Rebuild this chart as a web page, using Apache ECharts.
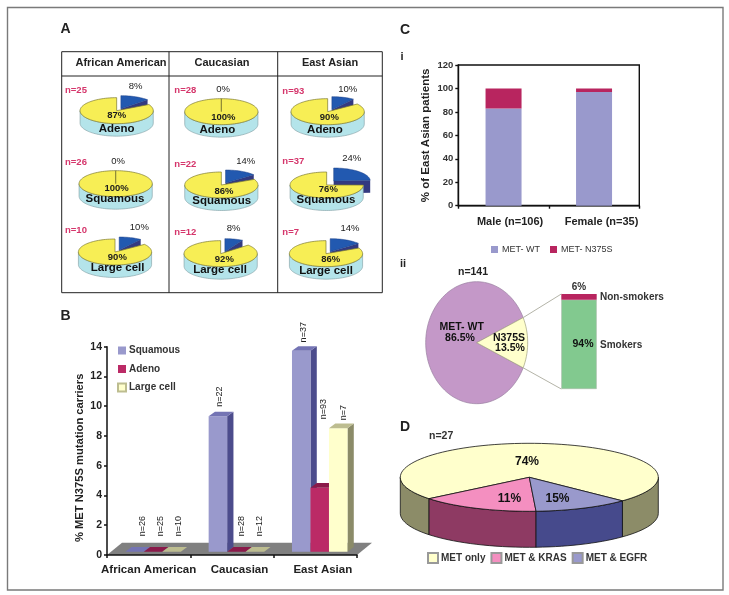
<!DOCTYPE html>
<html><head><meta charset="utf-8">
<style>html,body{margin:0;padding:0;background:#fff}#c{width:729px;height:595px}</style>
<script src="https://cdn.jsdelivr.net/npm/echarts@6/dist/echarts.min.js"></script>
</head><body><div id="c"></div>
<script>
// ---------- DATA ----------
const groups = ['African American', 'Caucasian', 'East Asian'];
const histologies = ['Adeno', 'Squamous', 'Large cell'];
// panel A, one row per group, one value per histology
const wtPct = [[87, 100, 90], [100, 86, 92], [90, 76, 86]];
const mutPct = [[8, 0, 10], [0, 14, 8], [10, 24, 14]];
const nCounts = [[25, 26, 10], [28, 22, 12], [93, 37, 7]];
// panel B
const bNames = ['Squamous', 'Adeno', 'Large cell'];
const bSquamous = [0, 9.1, 13.5];
const bAdeno = [0, 0, 4.3];
const bLarge = [0, 0, 8.3];
const bNSquamous = [26, 22, 37];
const bNAdeno = [25, 28, 93];
const bNLarge = [10, 12, 7];
// panel C i
const ciCategories = ['Male (n=106)', 'Female (n=35)'];
const ciWT = [83, 97];
const ciN375S = [17, 3];
// panel C ii
const ciiPie = [86.5, 13.5];
const ciiSmokers = [94];
const ciiNonSmokers = [6];
// panel D: printed labels, and the slice sizes as actually drawn in the picture
const dNames = ['MET only', 'MET & KRAS', 'MET & EGFR'];
const dLabels = [74, 11, 15];
const dDrawnShare = [73, 15, 12];

// ---------- LAYOUT ----------
const FF = '"Liberation Sans", Arial, sans-serif';
const INK = '#1c1c1c';
const za = (x, y) => [50 + x / 3, 15 + y / 3];
const miniCenter = [[[200, 287], [197, 506], [195, 711]], [[514, 290], [514, 510], [512, 716]], [[833, 290], [830, 510], [828, 716]]];
const miniN = [[[45, 225], [45, 441], [45, 645]], [[373, 225], [373, 447], [373, 652]], [[697, 230], [697, 440], [697, 652]]];
const miniMut = [[[257, 213], [204, 438], [268, 637]], [[519, 224], [587, 438], [551, 640]], [[893, 223], [905, 431], [900, 640]]];
const miniWt = [[[200, 302], [200, 520], [202, 727]], [[520, 308], [522, 530], [523, 733]], [[838, 307], [835, 522], [842, 733]]];
const miniHist = [[[200, 341], [195, 551], [203, 758]], [[502, 343], [515, 558], [510, 763]], [[825, 343], [828, 555], [828, 766]]];
const MINI = { rx: 36.6, ry: 13, d: 12.5 };
const bGrid = { left: 107, top: 346.7, width: 250, height: 208.3 };
const ciGrid = { left: 458.3, top: 65, width: 181, height: 140.7 };
const ciiGrid = { left: 561.3, top: 294, width: 35.4, height: 95 };
const ciiEll = { cx: 476.7, cy: 342.7, rx: 51, ry: 61 };
const dEll = { cx: 529.3, cy: 477.3, rx: 129, ry: 34, d: 36 };
const dColors = [['#ffffcc', '#8c8c68'], ['#f48fc0', '#8e3a63'], ['#9999cc', '#464a8c']];
const dSweepOrder = [0, 2, 1], dStart = 231;
const bBar = { w: 18.5, shift: 4.4, raise: 3.3, dx: 6.3, dy: 4.6 };
const bColors = [
  { front: '#9999cc', side: '#4c4c8c', top: '#7474b4' },
  { front: '#bb2a66', side: '#7c1240', top: '#8a1a4a' },
  { front: '#ffffcc', side: '#8b8b68', top: '#bdbd90' }];
const bLabelRise = [[21, 15, 14], [21, 21, 74], [21, 21, 11]];
const bLabelDx = [[16.7, 11, 11.3], [16.5, 14, 13], [16, 14, 14.7]];

// ---------- GEOMETRY HELPERS ----------
const rad = d => d * Math.PI / 180;
const pt = (e, deg, ox = 0, oy = 0) => [e.cx + ox + e.rx * Math.sin(rad(deg)), e.cy + oy - e.ry * Math.cos(rad(deg))];
function arc(e, a, b, ox = 0, oy = 0) {
  const pts = [], n = Math.max(2, Math.ceil(Math.abs(b - a) / 3));
  for (let i = 0; i <= n; i++) pts.push(pt(e, a + (b - a) * i / n, ox, oy));
  return pts;
}
const sector = (e, a, b, ox = 0, oy = 0) => [[e.cx + ox, e.cy + oy], ...arc(e, a, b, ox, oy)];
function frontRims(e, a, b, depth, ox = 0, oy = 0) {
  const out = [];
  for (let k = -1; k <= 2; k++) {
    const s = Math.max(a, 90 + 360 * k), t = Math.min(b, 270 + 360 * k);
    if (t > s) {
      const top = arc(e, s, t, ox, oy);
      out.push([...top, ...top.slice().reverse().map(p => [p[0], p[1] + depth])]);
    }
  }
  return out;
}
const poly = (points, fill, stroke, lineWidth) => ({ type: 'polygon', shape: { points }, style: { fill, stroke: stroke || null, lineWidth: lineWidth || 0 } });
const txt = (text, x, y, font, fill, align) => ({ type: 'text', style: { text, x, y, font: font + ' ' + FF, fill: fill || INK, align: align || 'center', verticalAlign: 'middle' } });

// ---------- RENDERERS ----------
function renderMini(params, api) {
  const c = api.value(0), r = api.value(1), wt = api.value(2), mut = api.value(3), n = api.value(4);
  const cc = za(...miniCenter[c][r]);
  const e = { cx: cc[0], cy: cc[1], rx: MINI.rx, ry: MINI.ry };
  // the exploded wedge spans the share not taken by the yellow slice; the yellow cut sits a little
  // further round, as the reference's perspective draws it
  const a = (100 - wt) * 3.6, yStart = a > 0 ? 28 + 0.72 * a : 0, kids = [];
  if (a > 0) {
    const ex = a > 60 ? 7 : 4.2, ey = a > 60 ? -4 : -2;
    const rim = pt(e, a, ex, ey), ctr = [e.cx + ex, e.cy + ey];
    kids.push(poly([ctr, rim, [rim[0], rim[1] + MINI.d], [ctr[0], ctr[1] + MINI.d]], '#333a80'));
    frontRims(e, 0, a, MINI.d, ex, ey).forEach(p => kids.push(poly(p, '#333a80')));
    kids.push(poly(sector(e, 0, a, ex, ey), '#2259b0', '#1b3f86', 0.5));
  }
  frontRims(e, yStart, 360, MINI.d).forEach(p => kids.push(poly(p, '#b4e4ea', '#7d9aa0', 0.6)));
  kids.push(poly(sector(e, yStart, 360), '#f7ee55', '#7d7a30', 0.7));
  const p1 = za(...miniWt[c][r]), p2 = za(...miniHist[c][r]), p3 = za(...miniMut[c][r]), p4 = za(...miniN[c][r]);
  kids.push(txt(wt + '%', p1[0], p1[1], 'bold 9.5px'));
  kids.push(txt(histologies[r], p2[0], p2[1], 'bold 11.5px', '#111'));
  kids.push(txt(mut + '%', p3[0], p3[1], '9.5px', '#222'));
  kids.push(txt('n=' + n, p4[0], p4[1], 'bold 9.5px', '#d5356b', 'left'));
  return { type: 'group', children: kids };
}
function renderFloor(params, api) {
  const s = params.coordSys, B = s.y + s.height, X = s.x, R = s.x + s.width;
  return poly([[X, B], [R, B], [R + 15, B - 12.3], [X + 15, B - 12.3]], '#808080');
}
function makeBarRender(si) {
  return function (params, api) {
    const cat = api.value(0), v = api.value(1), n = api.value(2);
    const base = api.coord([cat, 0]), tip = api.coord([cat, v]);
    const x0 = base[0] + bBar.shift + (si - 1.5) * bBar.w, x1 = x0 + bBar.w;
    const yb = base[1] - bBar.raise, yt = tip[1] - bBar.raise;
    const col = bColors[si], kids = [];
    const dx = bBar.dx, dy = bBar.dy;
    kids.push(poly([[x1, yt], [x1 + dx, yt - dy], [x1 + dx, yb - dy], [x1, yb]], col.side));
    if (v > 0) kids.push(poly([[x0, yt], [x1, yt], [x1, yb], [x0, yb]], col.front));
    kids.push(poly([[x0, yt], [x1, yt], [x1 + dx, yt - dy], [x0 + dx, yt - dy]], col.top));
    kids.push({
      type: 'text', x: x0 + bLabelDx[si][cat], y: yt - dy - bLabelRise[si][cat], rotation: Math.PI / 2,
      style: { text: 'n=' + n, x: 0, y: 0, font: '9px ' + FF, fill: '#222', align: 'center', verticalAlign: 'middle' }
    });
    return { type: 'group', children: kids };
  };
}
function renderCiiPie(params, api) {
  const half = api.value(1) * 1.8;
  return {
    type: 'group', children: [
      poly(sector(ciiEll, 90 + half, 450 - half), '#c498c8', '#9a7fa0', 0.7),
      poly(sector(ciiEll, 90 - half, 90 + half), '#ffffcc', '#a0a080', 0.7)
    ]
  };
}
function makeDRender(nameIdx) {
  return function () {
    let a = dStart;
    for (const i of dSweepOrder) {
      const b = a + dDrawnShare[i] * 3.6;
      if (i === nameIdx) {
        const kids = [];
        frontRims(dEll, a, b, dEll.d).forEach(p => kids.push(poly(p, dColors[i][1], '#111', 0.8)));
        kids.push(poly(sector(dEll, a, b), dColors[i][0], '#111', 0.8));
        return { type: 'group', children: kids };
      }
      a = b;
    }
  };
}

// ---------- STATIC MARKUP ----------
const line = (x1, y1, x2, y2, stroke, lw) => ({ type: 'line', shape: { x1, y1, x2, y2 }, style: { stroke, lineWidth: lw } });
const half = ciiPie[1] * 1.8;
const ciiTop = pt(ciiEll, 90 - half), ciiBot = pt(ciiEll, 90 + half);
const tableLines = [
  line(61.7, 51.7, 382.3, 51.7, '#222', 1), line(61.7, 76, 382.3, 76, '#222', 1), line(61.7, 292.7, 382.3, 292.7, '#222', 1),
  line(61.7, 51.7, 61.7, 292.7, '#222', 1), line(169, 51.7, 169, 292.7, '#222', 1), line(277.7, 51.7, 277.7, 292.7, '#222', 1), line(382.3, 51.7, 382.3, 292.7, '#222', 1)
];
const graphicEls = [
  { type: 'rect', shape: { x: 7.5, y: 7.5, width: 715.5, height: 582.5 }, style: { fill: null, stroke: '#7a7a7a', lineWidth: 1.4 }, z: 0 },
  ...tableLines,
  line(ciiTop[0], ciiTop[1], ciiGrid.left, ciiGrid.top, '#b4b4a8', 1),
  line(ciiBot[0], ciiBot[1], ciiGrid.left, ciiGrid.top + ciiGrid.height, '#b4b4a8', 1),
  txt('A', 65.5, 29.5, 'bold 14px', '#222'), txt('B', 65.5, 316.5, 'bold 14px', '#222'),
  txt('C', 405, 30, 'bold 14px', '#222'), txt('D', 405, 427, 'bold 14px', '#222'),
  txt('i', 402, 57, 'bold 11px', '#222'), txt('ii', 403, 264, 'bold 11px', '#222'),
  txt(groups[0], 121, 63, 'bold 11px', '#222'), txt(groups[1], 222, 63, 'bold 11px', '#222'), txt(groups[2], 330, 63, 'bold 11px', '#222'),
  txt('n=141', 473, 272.5, 'bold 10.5px', '#222'),
  txt('MET- WT', 461.7, 326.7, 'bold 10.5px', '#111'), txt(ciiPie[0] + '%', 460, 338, 'bold 10.5px', '#111'),
  txt('N375S', 509, 338, 'bold 10.5px', '#111'), txt(ciiPie[1] + '%', 510, 348.5, 'bold 10.5px', '#111'),
  txt('Non-smokers', 600, 297.5, 'bold 10px', '#333', 'left'), txt('Smokers', 600, 345, 'bold 10px', '#333', 'left'),
  txt('n=27', 429, 436, 'bold 10.5px', '#333', 'left'),
  txt(dLabels[0] + '%', 527, 462, 'bold 12px', '#111'), txt(dLabels[1] + '%', 509.5, 498.5, 'bold 12px', '#111'), txt(dLabels[2] + '%', 557.5, 498.5, 'bold 12px', '#111')
].map(g => Object.assign({ silent: true, z: 20 }, g));

const miniData = [];
groups.forEach((g, c) => histologies.forEach((h, r) => miniData.push([c, r, wtPct[c][r], mutPct[c][r], nCounts[c][r]])));
const triples = (vals, ns) => vals.map((v, i) => [i, v, ns[i]]);
const labelShift = [0, 15, 15];
const axisName = { fontWeight: 'bold', color: '#222', fontFamily: FF };

const option = {
  animation: false, backgroundColor: '#fff',
  textStyle: { fontFamily: FF },
  graphic: { elements: graphicEls },
  grid: [
    Object.assign({ containLabel: false }, bGrid),
    Object.assign({ show: true, borderColor: '#111', borderWidth: 1.4, backgroundColor: 'transparent' }, ciGrid),
    Object.assign({}, ciiGrid)
  ],
  legend: [
    {
      left: 112, top: 340, orient: 'vertical', itemWidth: 8, itemHeight: 8, itemGap: 7.5, selectedMode: false, icon: 'rect',
      data: bNames, textStyle: { fontWeight: 'bold', fontSize: 10, color: '#333', padding: [0, 0, 0, -2], lineHeight: 11 }
    },
    {
      left: 486, top: 240, itemWidth: 7, itemHeight: 7, itemGap: 10, selectedMode: false, icon: 'rect',
      data: ['MET- WT', 'MET- N375S'], textStyle: { fontSize: 9, color: '#333', padding: [0, 0, 0, -1] }
    },
    {
      left: 422, top: 547, itemWidth: 10, itemHeight: 10, itemGap: 5, selectedMode: false, icon: 'rect',
      data: dNames, textStyle: { fontWeight: 'bold', fontSize: 10, color: '#333', padding: [0, 0, 0, -2] }
    }
  ],
  xAxis: [
    {
      gridIndex: 0, type: 'category', data: groups, z: 6,
      axisLine: { lineStyle: { color: '#111', width: 1.5 } }, axisTick: { show: true, length: 3, lineStyle: { color: '#111', width: 1.5 } },
      axisLabel: {
        interval: 0, margin: 9, hideOverlap: false,
        formatter: (v, i) => `{c${i}|${v}}`,
        rich: Object.fromEntries(groups.map((g, i) => ['c' + i, { fontWeight: 'bold', fontSize: 11.5, color: '#222', padding: [0, 0, 0, labelShift[i]] }]))
      }
    },
    {
      gridIndex: 1, type: 'category', data: ciCategories,
      axisLine: { lineStyle: { color: '#111', width: 1.4 } }, axisTick: { show: true, length: 3, lineStyle: { color: '#111', width: 1.4 } },
      axisLabel: {
        interval: 0, margin: 11,
        formatter: (v, i) => `{c${i}|${v}}`,
        rich: { c0: { fontWeight: 'bold', fontSize: 11, color: '#222', padding: [0, 0, 0, 13] }, c1: { fontWeight: 'bold', fontSize: 11, color: '#222', padding: [0, 0, 0, 15] } }
      }
    },
    { gridIndex: 2, type: 'category', data: ['N375S'], show: false }
  ],
  yAxis: [
    {
      gridIndex: 0, type: 'value', min: 0, max: 14, interval: 2, z: 6,
      name: '% MET N375S mutation carriers', nameLocation: 'middle', nameGap: 22, nameTextStyle: Object.assign({ fontSize: 11.2, padding: [0, 14, 0, 0] }, axisName),
      axisLine: { show: true, lineStyle: { color: '#111', width: 1.5 } }, axisTick: { show: true, length: 3, lineStyle: { color: '#111', width: 1.5 } },
      splitLine: { show: false }, axisLabel: { fontWeight: 'bold', fontSize: 10.5, color: '#222', margin: 5 }
    },
    {
      gridIndex: 1, type: 'value', min: 0, max: 120, interval: 20,
      name: '% of East Asian patients', nameLocation: 'middle', nameGap: 26, nameTextStyle: Object.assign({ fontSize: 11.5 }, axisName),
      axisLine: { show: true, lineStyle: { color: '#111', width: 1.4 } }, axisTick: { show: true, length: 3, lineStyle: { color: '#111', width: 1.4 } },
      splitLine: { show: false }, axisLabel: { fontWeight: 'bold', fontSize: 9.5, color: '#333', margin: 5 }
    },
    { gridIndex: 2, type: 'value', min: 0, max: 100, show: false, splitLine: { show: false } }
  ],
  series: [
    { type: 'custom', name: 'miniPies', coordinateSystem: 'none', renderItem: renderMini, data: miniData, silent: true },
    { type: 'custom', name: 'floor', xAxisIndex: 0, yAxisIndex: 0, renderItem: renderFloor, data: [[0, 0]], encode: { x: 0, y: 1 }, z: 1, silent: true, clip: false },
    ...[bSquamous, bAdeno, bLarge].map((vals, si) => ({
      type: 'custom', name: bNames[si], xAxisIndex: 0, yAxisIndex: 0, renderItem: makeBarRender(si), clip: false, silent: true,
      itemStyle: { color: bColors[si].front, borderColor: si === 2 ? '#bdbd90' : null, borderWidth: si === 2 ? 0.6 : 0 },
      data: triples(vals, [bNSquamous, bNAdeno, bNLarge][si]), encode: { x: 0, y: 1 }, z: 2 + si
    })),
    { type: 'bar', name: 'MET- WT', xAxisIndex: 1, yAxisIndex: 1, stack: 'c', barWidth: 36, data: ciWT, itemStyle: { color: '#9999cc' }, silent: true },
    { type: 'bar', name: 'MET- N375S', xAxisIndex: 1, yAxisIndex: 1, stack: 'c', barWidth: 36, data: ciN375S, itemStyle: { color: '#b8255f' }, silent: true },
    {
      type: 'bar', name: 'Smokers', xAxisIndex: 2, yAxisIndex: 2, stack: 'd', barWidth: ciiGrid.width, data: ciiSmokers, silent: true,
      itemStyle: { color: '#82c98f', borderColor: '#a8b8a8', borderWidth: 0.6 },
      label: { show: true, position: 'inside', offset: [4, 0], formatter: p => p.value + '%', fontWeight: 'bold', fontSize: 10.5, color: '#111' }
    },
    {
      type: 'bar', name: 'Non-smokers', xAxisIndex: 2, yAxisIndex: 2, stack: 'd', barWidth: ciiGrid.width, data: ciiNonSmokers, silent: true,
      itemStyle: { color: '#b8255f' },
      label: { show: true, position: 'top', distance: 2, formatter: p => p.value + '%', fontWeight: 'bold', fontSize: 10, color: '#333' }
    },
    { type: 'custom', name: 'ciiPie', coordinateSystem: 'none', renderItem: renderCiiPie, data: [ciiPie], silent: true },
    ...dNames.map((nm, i) => ({
      type: 'custom', name: nm, coordinateSystem: 'none', renderItem: makeDRender(i), silent: true,
      itemStyle: { color: dColors[i][0], borderColor: '#999', borderWidth: 0.8 }, data: [[dLabels[i]]]
    }))
  ]
};
echarts.init(document.getElementById('c'), null, { renderer: 'canvas' }).setOption(option);
</script></body></html>
